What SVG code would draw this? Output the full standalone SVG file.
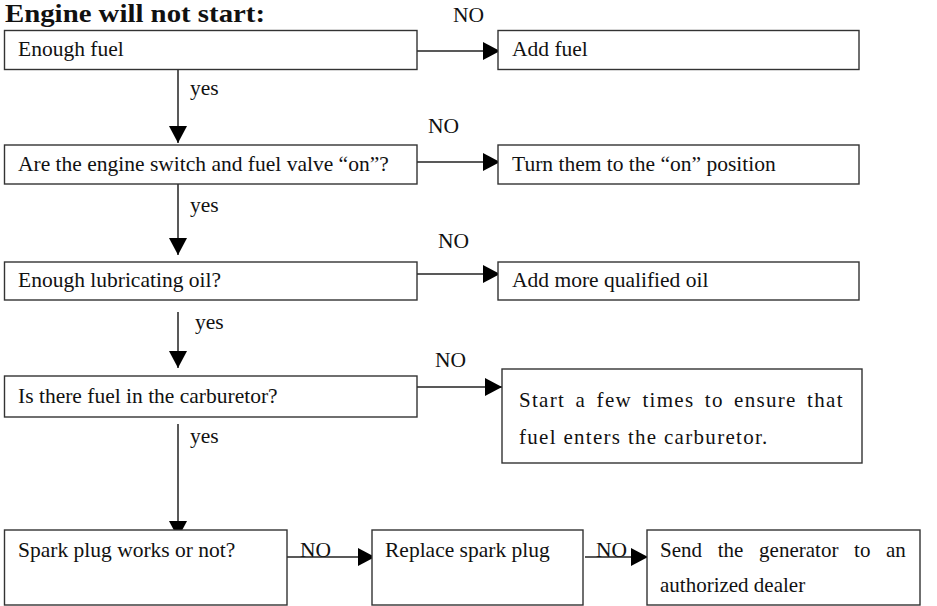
<svg xmlns="http://www.w3.org/2000/svg" width="937" height="606" viewBox="0 0 937 606">
<defs>
<style>
text{font-family:"Liberation Serif","Times New Roman",serif;font-size:21.5px;fill:#111}
.title{font-weight:bold;font-size:26px}
.sp{font-size:21px;letter-spacing:1.3px}
.box{fill:#fff;stroke:#333;stroke-width:1.4}
.ln{fill:none;stroke:#222;stroke-width:1.5}
</style>
<marker id="ah" viewBox="0 0 17 18" refX="17" refY="9" markerWidth="17" markerHeight="18" markerUnits="userSpaceOnUse" orient="auto">
<path d="M0,0 L17,9 L0,18 z" fill="#000"/>
</marker>
</defs>
<rect width="937" height="606" fill="#fff"/>
<text class="title" x="5" y="22" textLength="260" lengthAdjust="spacingAndGlyphs">Engine will not start:</text>

<g id="connectors">
<path class="ln" d="M417,51 H500" marker-end="url(#ah)"/>
<path class="ln" d="M178,69 V143" marker-end="url(#ah)"/>
<path class="ln" d="M417,162 H500" marker-end="url(#ah)"/>
<path class="ln" d="M178,184 V255" marker-end="url(#ah)"/>
<path class="ln" d="M417,274 H500" marker-end="url(#ah)"/>
<path class="ln" d="M178,312 V368" marker-end="url(#ah)"/>
<path class="ln" d="M417,387 H502" marker-end="url(#ah)"/>
<path class="ln" d="M178,424 V538" marker-end="url(#ah)"/>
<path class="ln" d="M287,557 H375" marker-end="url(#ah)"/>
<path class="ln" d="M585,557 H648" marker-end="url(#ah)"/>
<text x="453" y="22">NO</text>
<text x="190" y="95">yes</text>
<text x="428" y="133">NO</text>
<text x="190" y="212">yes</text>
<text x="438" y="248">NO</text>
<text x="195" y="329">yes</text>
<text x="435" y="367">NO</text>
<text x="190" y="443">yes</text>
<text x="300" y="557">NO</text>
<text x="596" y="557">NO</text>
</g>

<g id="n1"><rect class="box" x="4.5" y="30.5" width="412.5" height="39"/><text x="18" y="56">Enough fuel</text></g>
<g id="n2"><rect class="box" x="498" y="30.5" width="361" height="39"/><text x="512" y="56">Add fuel</text></g>
<g id="n3"><rect class="box" x="4.5" y="145" width="412.5" height="39"/><text x="18" y="171">Are the engine switch and fuel valve “on”?</text></g>
<g id="n4"><rect class="box" x="498" y="145" width="361" height="39"/><text x="512" y="171">Turn them to the “on” position</text></g>
<g id="n5"><rect class="box" x="4.5" y="262" width="412.5" height="38"/><text x="18" y="287">Enough lubricating oil?</text></g>
<g id="n6"><rect class="box" x="498" y="262" width="361" height="38"/><text x="512" y="287">Add more qualified oil</text></g>
<g id="n7"><rect class="box" x="4.5" y="376" width="412.5" height="41"/><text x="18" y="403">Is there fuel in the carburetor?</text></g>
<g id="n8"><rect class="box" x="502" y="369" width="360" height="94"/>
<text class="sp" y="407"><tspan x="519">Start</tspan><tspan x="575.6">a</tspan><tspan x="596.6">few</tspan><tspan x="642.4">times</tspan><tspan x="704.8">to</tspan><tspan x="734.1">ensure</tspan><tspan x="807.1">that</tspan></text>
<text class="sp" x="519" y="444">fuel enters the carburetor.</text></g>
<g id="n9"><rect class="box" x="4.5" y="530" width="282.5" height="75"/><text x="18" y="557">Spark plug works or not?</text></g>
<g id="n10"><rect class="box" x="372" y="530" width="211" height="75"/><text x="385" y="557">Replace spark plug</text></g>
<g id="n11"><rect class="box" x="647" y="530" width="273" height="75"/>
<text y="557" style="font-size:21px"><tspan x="660">Send</tspan><tspan x="717.7">the</tspan><tspan x="759.1">generator</tspan><tspan x="854.1">to</tspan><tspan x="886">an</tspan></text>
<text x="660" y="592" style="font-size:21px">authorized dealer</text></g>
</svg>
